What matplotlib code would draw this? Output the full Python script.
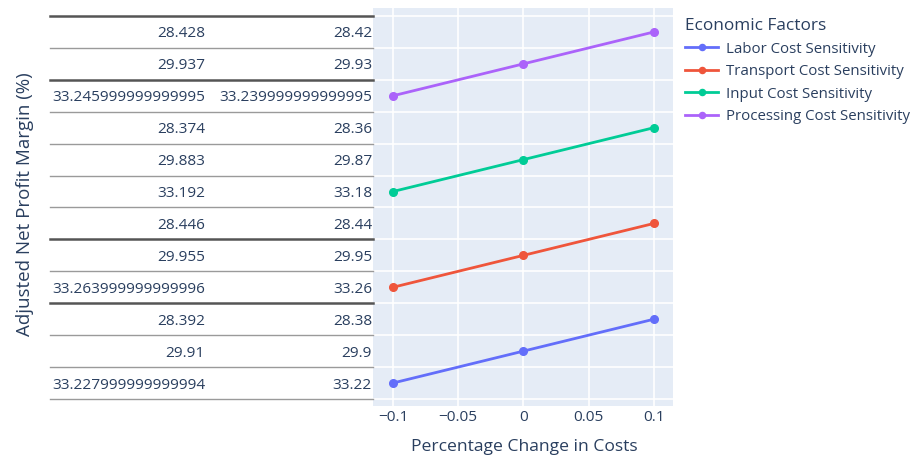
import matplotlib
matplotlib.use("Agg")
import matplotlib.pyplot as plt
from matplotlib import transforms

# data
pct_change = [-0.1, 0.0, 0.1]
factors = ["Labor Cost Sensitivity", "Transport Cost Sensitivity",
           "Input Cost Sensitivity", "Processing Cost Sensitivity"]
labor_outer = ["33.227999999999994", "29.91", "28.392"]
labor_inner = ["33.22", "29.9", "28.38"]
transport_outer = ["33.263999999999996", "29.955", "28.446"]
transport_inner = ["33.26", "29.95", "28.44"]
input_outer = ["33.192", "29.883", "28.374"]
input_inner = ["33.18", "29.87", "28.36"]
processing_outer = ["33.245999999999995", "29.937", "28.428"]
processing_inner = ["33.239999999999995", "29.93", "28.42"]
x_ticks = [-0.1, -0.05, 0, 0.05, 0.1]
x_tick_labels = ["\u22120.1", "\u22120.05", "0", "0.05", "0.1"]

series_outer = [labor_outer, transport_outer, input_outer, processing_outer]
series_inner = [labor_inner, transport_inner, input_inner, processing_inner]
colors = ["#636efa", "#EF553B", "#00cc96", "#ab63fa"]
text_c = "#2a3f5f"
font = "Open Sans"

# categories in first-appearance order, bottom up
cats = []
for o, i in zip(series_outer, series_inner):
    for a, b in zip(o, i):
        if (a, b) not in cats:
            cats.append((a, b))

W, H = 923, 457
fig = plt.figure(figsize=(W / 100, H / 100), dpi=100)
ax = fig.add_axes([373 / W, (H - 406) / H, 300 / W, 398 / H])
ax.set_facecolor("#E5ECF6")
for s in ax.spines.values():
    s.set_visible(False)

for name, o, i, c in zip(factors, series_outer, series_inner, colors):
    ys = [cats.index((a, b)) for a, b in zip(o, i)]
    ax.plot(pct_change, ys, color=c, lw=2, marker="o", markersize=5.5,
            label=name, zorder=3)

ax.set_xlim(-0.1153, 0.1146)
ax.set_ylim(-0.72, len(cats) - 0.25)

ax.set_xticks(x_ticks)
ax.set_xticklabels(x_tick_labels, fontfamily=font, fontsize=11.1, color=text_c)
ax.tick_params(axis="x", length=0, pad=3)
ax.set_yticks([])
for x in x_ticks:
    ax.axvline(x, color="white", lw=1.2, zorder=1)
for k in range(len(cats) + 1):
    ax.axhline(k - 0.5, color="white", lw=1.2, zorder=1)

# multicategory axis labels and dividers
tr = transforms.blended_transform_factory(fig.transFigure, ax.transData)
tr_txt = tr + transforms.ScaledTranslation(0, -5.5 / 100, fig.dpi_scale_trans)
thick = [2.5, 4.5, 9.5, 11.5]
for k in range(len(cats) + 1):
    yb = k - 0.5
    if yb in thick:
        ax.plot([50 / W, 373 / W], [yb, yb], transform=tr, color="#555555",
                lw=1.8, clip_on=False)
    else:
        ax.plot([50 / W, 373 / W], [yb, yb], transform=tr, color="#9a9a9a",
                lw=1.0, clip_on=False)
for k, (a, b) in enumerate(cats):
    fig.text(205 / W, k, a, transform=tr_txt, ha="right",
             va="baseline", fontfamily=font, fontsize=11.1, color=text_c)
    fig.text(372 / W, k, b, transform=tr_txt, ha="right",
             va="baseline", fontfamily=font, fontsize=11.1, color=text_c)

fig.text(25 / W, 1 - 204 / H, "Adjusted Net Profit Margin (%)", rotation=90,
         ha="center", va="center", fontfamily=font, fontsize=13.5, color=text_c)
fig.text(524 / W, 1 - 447 / H, "Percentage Change in Costs", ha="center",
         va="center", fontfamily=font, fontsize=12.6, color=text_c)

leg = fig.legend(loc="upper left", bbox_to_anchor=(679 / W, 1 - 12 / H),
                 frameon=False, title="Economic Factors",
                 prop={"family": font, "size": 10.85}, handlelength=2.2,
                 labelspacing=0.5, handletextpad=0.5, borderaxespad=0,
                 markerscale=0.8)
leg.get_title().set_fontfamily(font)
leg.get_title().set_fontsize(12.4)
leg.get_title().set_color(text_c)
leg._legend_box.align = "left"
for t in leg.get_texts():
    t.set_color(text_c)

fig.savefig("out.png", dpi=100)
